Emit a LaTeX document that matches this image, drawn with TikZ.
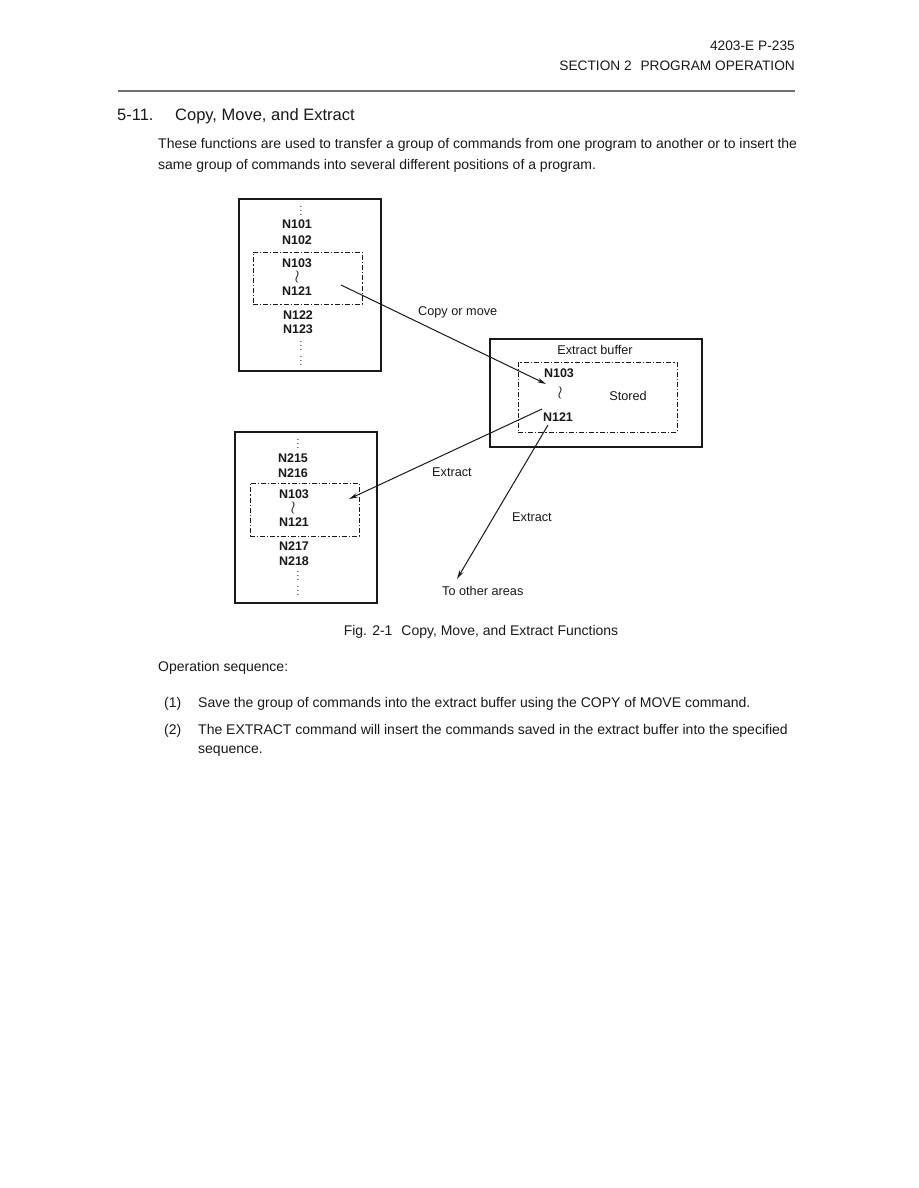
\documentclass[tikz,border=0pt]{standalone}
\usepackage{fontspec}
\setmainfont{Liberation Sans}
\usepackage{tikz}
\usetikzlibrary{arrows.meta, positioning, calc}
\definecolor{mydark}{RGB}{25,25,25}
\definecolor{mygray}{RGB}{110,110,110}
\tikzset{
  listbox/.style={rectangle, draw=mydark, line width=1.2pt, inner sep=0pt, outer sep=0pt, anchor=north west},
  groupbox/.style={rectangle, draw=mydark, line width=0.8pt, inner sep=0pt, outer sep=0pt, anchor=north west,
    dash pattern=on 5pt off 2pt on 1.2pt off 2pt},
  cmd/.style={font=\fontsize{12.5}{14}\selectfont\bfseries, text=mydark, inner sep=0pt},
  wave/.style={font=\fontsize{12.5}{14}\selectfont, text=mydark, inner sep=0pt, scale=1.5},
  dots/.style={font=\fontsize{10}{12}\selectfont, text=mydark, inner sep=0pt},
  note/.style={font=\fontsize{12.7}{14}\selectfont, text=mydark, inner sep=0pt},
  textline/.style={font=\fontsize{14}{20}\selectfont, text=mydark, inner sep=0pt, anchor=base west},
  arrow/.style={-{Stealth[length=9pt, width=4.5pt]}, line width=1pt, color=mydark},
  line/.style={line width=1pt, color=mydark}
}
\begin{document}
\begin{tikzpicture}[x=1pt, y=-1pt]
  \useasboundingbox[fill=white] (0,0) rectangle (918,1188);

  % page header
  \node[textline, anchor=base east, font=\fontsize{13.7}{20}\selectfont] (pgno) at (795,51) {4203-E\hspace{4pt}P-235};
  \node[textline, anchor=base east, font=\fontsize{13.7}{20}\selectfont] (section) at (795,71) {SECTION 2\hspace{5pt} PROGRAM OPERATION};
  \draw[color=mygray, line width=2.8pt] (118,91) -- (795,91);

  % heading and intro
  \node[textline, font=\fontsize{16.5}{20}\selectfont] (secno) at (117,121) {5-11.};
  \node[textline, font=\fontsize{16.5}{20}\selectfont] (title) at (175,121) {Copy, Move, and Extract};
  \node[textline] (intro1) at (158,149) {These functions are used to transfer a group of commands from one program to another or to insert the};
  \node[textline] (intro2) at (158,169) {same group of commands into several different positions of a program.};

  % source program
  \node[listbox, minimum width=142pt, minimum height=172pt] (prog1) at (239,199) {};
  \node[groupbox, minimum width=109pt, minimum height=52pt] (grp1) at (253,252) {};
  \node[dots] (d1a) at (301,208) {$\vdots$};
  \node[cmd] (n101) at (297,224) {N101};
  \node[cmd] (n102) at (297,240) {N102};
  \node[cmd] (n103a) at (297,263) {N103};
  \node[wave] (sq1) at (297,277) {$\wr$};
  \node[cmd] (n121a) at (297,291) {N121};
  \node[cmd] (n122) at (298,315) {N122};
  \node[cmd] (n123) at (298,329) {N123};
  \node[dots] (d1b) at (301,343) {$\vdots$};
  \node[dots] (d1c) at (301,358) {$\vdots$};

  % extract buffer
  \node[listbox, minimum width=212pt, minimum height=108pt] (buffer) at (490,339) {};
  \node[groupbox, minimum width=159pt, minimum height=70pt] (grpb) at (518,362) {};
  \node[note] (buftitle) at (595,350) {Extract buffer};
  \node[cmd] (n103b) at (559,373) {N103};
  \node[wave] (sqb) at (560,393) {$\wr$};
  \node[note] (stored) at (628,396) {Stored};
  \node[cmd] (n121b) at (558,417) {N121};

  % destination program
  \node[listbox, minimum width=142pt, minimum height=171pt] (prog2) at (235,432) {};
  \node[groupbox, minimum width=109pt, minimum height=53pt] (grp2) at (250,483) {};
  \node[dots] (d2a) at (298,441) {$\vdots$};
  \node[cmd] (n215) at (293,458) {N215};
  \node[cmd] (n216) at (293,473) {N216};
  \node[cmd] (n103c) at (294,494) {N103};
  \node[wave] (sq2) at (293,508) {$\wr$};
  \node[cmd] (n121c) at (294,522) {N121};
  \node[cmd] (n217) at (294,546) {N217};
  \node[cmd] (n218) at (294,561) {N218};
  \node[dots] (d2b) at (298,573) {$\vdots$};
  \node[dots] (d2c) at (298,588) {$\vdots$};

  % connectors
  \coordinate (cpfrom) at (341,285);
  \coordinate (cpto) at (546,384);
  \coordinate (exfrom) at (542,409);
  \coordinate (exto) at (349,499);
  \coordinate (otfrom) at (548,425);
  \coordinate (otto) at (457,579);
  \draw[arrow] (cpfrom) -- (cpto);
  \draw[arrow] (exfrom) -- (exto);
  \draw[arrow] (otfrom) -- (otto);
  \node[note, anchor=west] (copylbl) at (418,312) {Copy or move};
  \node[note, anchor=west] (exlbl1) at (432,472) {Extract};
  \node[note, anchor=west] (exlbl2) at (512,517) {Extract};
  \node[note, anchor=west] (otherlbl) at (442,591) {To other areas};

  % caption and steps
  \node[textline, anchor=base] (caption) at (481,635) {Fig. 2-1\hspace{5pt} Copy, Move, and Extract Functions};
  \node[textline] (opseq) at (158,671) {Operation sequence:};
  \node[textline] (st1no) at (164,707) {(1)};
  \node[textline] (st1) at (198,707) {Save the group of commands into the extract buffer using the COPY of MOVE command.};
  \node[textline] (st2no) at (164,734) {(2)};
  \node[textline] (st2a) at (198,734) {The EXTRACT command will insert the commands saved in the extract buffer into the specified};
  \node[textline] (st2b) at (198,753) {sequence.};
\end{tikzpicture}
\end{document}
